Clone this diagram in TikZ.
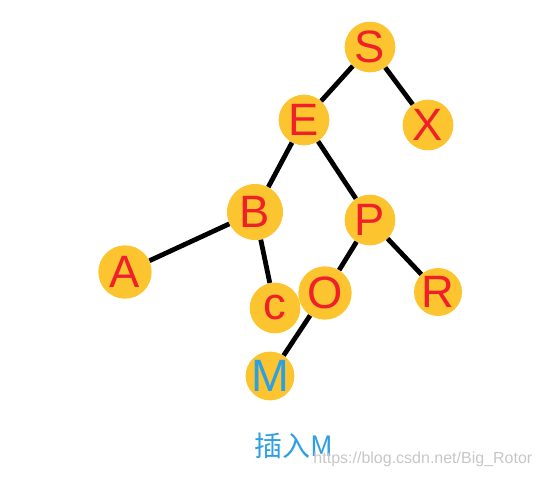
\documentclass[tikz,border=0pt]{standalone}
\usepackage{fontspec}
\setmainfont{Liberation Sans}
\newfontfamily\cjk{Noto Sans CJK SC}
\definecolor{ballyellow}{HTML}{FCC42E}
\definecolor{letterred}{HTML}{F0202A}
\definecolor{insertblue}{HTML}{2E9FE2}
\begin{document}
\begin{tikzpicture}[x=0.75pt,y=-0.75pt,
        ball/.style={circle,fill=ballyellow,minimum size=38pt,inner sep=0pt,
                     text=letterred,font=\fontsize{34}{34}\selectfont},
        branch/.style={line width=3.6pt,black}]
        \useasboundingbox (0,0) rectangle (546,478);

        \node [ball] (S) at (370,47) {S};
        \node [ball] (X) at (428,125) {X};
        \node [ball] (E) at (304,120) {E};
        \node [ball,minimum size=42pt] (B) at (255,212) {B};
        \node [ball] (P) at (370,220) {P};
        \node [ball,minimum size=40pt] (A) at (125,272) {A};
        \node [ball] (C) at (275,308) {c};
        \node [ball,minimum size=40pt] (O) at (325,293) {O};
        \node [ball,minimum size=36pt] (R) at (438,292) {R};
        \node [ball,minimum size=36pt,text=insertblue] (M) at (270,376) {M};

            \draw[branch] (S) -- (E);
            \draw[branch] (S) -- (X);
            \draw[branch] (E) -- (B);
            \draw[branch] (E) -- (P);
            \draw[branch] (B) -- (A);
            \draw[branch] (B) -- (C);
            \draw[branch] (P) -- (O);
            \draw[branch] (P) -- (R);
            \draw[branch] (O) -- (M);

        \node [text=insertblue,font=\cjk\fontsize{21}{21}\selectfont] (caption) at (294,446) {插入M};
        \node [text=black!22,font=\fontsize{12}{12}\selectfont,anchor=east] (mark) at (537,459) {https://blog.csdn.net/Big\_Rotor};
    \end{tikzpicture}
\end{document}
